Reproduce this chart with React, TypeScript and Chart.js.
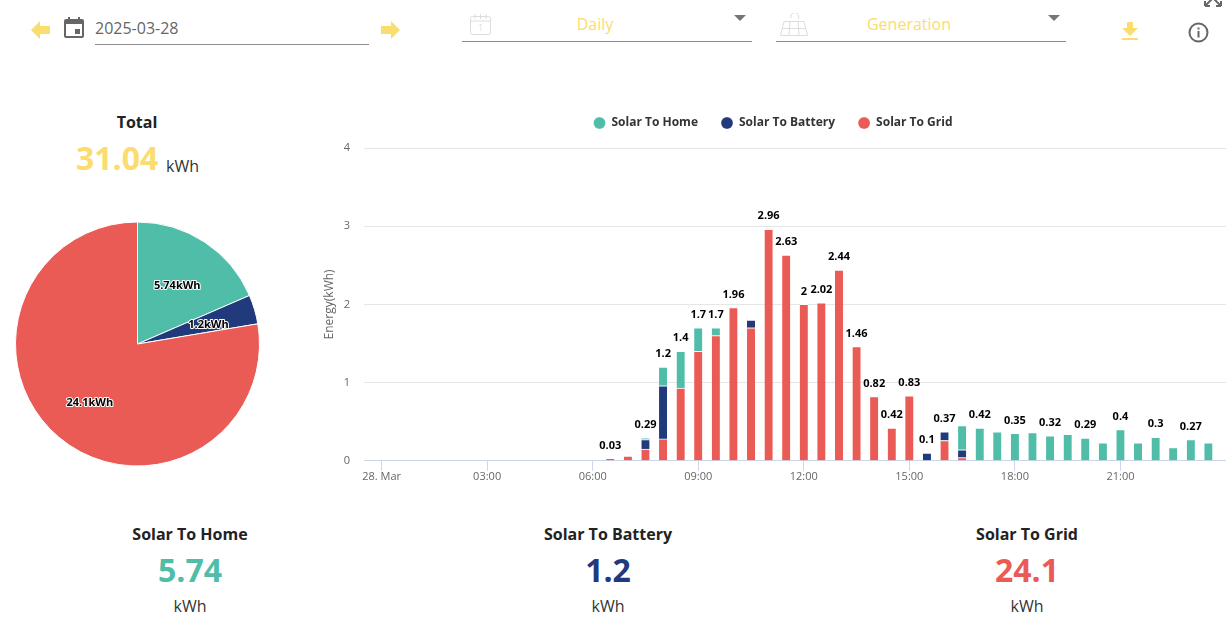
import React, { useEffect, useRef } from "react";
import { Chart, registerables, type ChartConfiguration, type Plugin } from "chart.js";

Chart.register(...registerables);

const FONT = '"Open Sans", sans-serif';
const TEAL = "#50bda9";
const NAVY = "#203a7c";
const RED = "#eb5b55";
const YELLOW = "#fbdc6e";

// half hour slots, in hours since midnight
const slots = [
  6.5, 7, 7.5, 8, 8.5, 9, 9.5, 10, 10.5, 11, 11.5, 12, 12.5, 13, 13.5, 14, 14.5, 15, 15.5, 16, 16.5, 17, 17.5, 18,
  18.5, 19, 19.5, 20, 20.5, 21, 21.5, 22, 22.5, 23, 23.5,
];
const solarToHome = [
  0, 0, 0.02, 0.24, 0.47, 0.3, 0.1, 0, 0, 0, 0, 0, 0, 0, 0, 0, 0, 0, 0, 0, 0.31, 0.42, 0.37, 0.35, 0.36, 0.32, 0.34,
  0.29, 0.23, 0.4, 0.23, 0.3, 0.17, 0.27, 0.23,
];
const solarToBattery = [
  0, 0, 0.12, 0.68, 0, 0, 0, 0, 0.1, 0, 0, 0, 0, 0, 0, 0, 0, 0, 0.1, 0.11, 0.1, 0, 0, 0, 0, 0, 0, 0, 0, 0, 0, 0, 0, 0, 0,
];
const solarToGrid = [
  0.03, 0.06, 0.15, 0.28, 0.93, 1.4, 1.6, 1.96, 1.7, 2.96, 2.63, 2, 2.02, 2.44, 1.46, 0.82, 0.42, 0.83, 0, 0.26, 0.04,
  0, 0, 0, 0, 0, 0, 0, 0, 0, 0, 0, 0, 0, 0,
];
// the labels that stay visible above the stacks, the others are hidden for overlap
const stackLabels = [
  "0.03", null, "0.29", "1.2", "1.4", "1.7", "1.7", "1.96", null, "2.96", "2.63", "2", "2.02", "2.44", "1.46", "0.82",
  "0.42", "0.83", "0.1", "0.37", null, "0.42", null, "0.35", null, "0.32", null, "0.29", null, "0.4", null, "0.3", null,
  "0.27", null,
];
const tickHours = [0, 3, 6, 9, 12, 15, 18, 21];
const tickLabels = ["28. Mar", "03:00", "06:00", "09:00", "12:00", "15:00", "18:00", "21:00"];

const pieLabels = ["Solar To Home", "Solar To Battery", "Solar To Grid"];
const pieValues = [5.74, 1.2, 24.1];
const pieColors = [TEAL, NAVY, RED];
const pieLabelRadius = [71.5, 73.5, 74.5];

const points = (values: number[]) => slots.map((x, i) => ({ x, y: values[i] > 0 ? values[i] : null }));

const stackLabelPlugin: Plugin<"bar"> = {
  id: "stackLabels",
  afterDatasetsDraw(chart) {
    const { ctx, scales } = chart;
    ctx.save();
    ctx.font = `bold 11px ${FONT}`;
    ctx.fillStyle = "#000";
    ctx.textAlign = "center";
    ctx.textBaseline = "middle";
    slots.forEach((slot, i) => {
      const label = stackLabels[i];
      if (!label) return;
      const total = solarToHome[i] + solarToBattery[i] + solarToGrid[i];
      ctx.fillText(label, scales.x.getPixelForValue(slot), scales.y.getPixelForValue(total) - 13);
    });
    ctx.restore();
  },
};

// more room under the legend, the legend plugin has no option for it
const legendGapPlugin: Plugin<"bar"> = {
  id: "legendGap",
  beforeInit(chart) {
    const legend = chart.legend as any;
    const fit = legend.fit;
    legend.fit = function () {
      fit.bind(legend)();
      legend.height += 9;
    };
  },
};

const pieLabelPlugin: Plugin<"pie"> = {
  id: "pieLabels",
  afterDatasetsDraw(chart) {
    const { ctx } = chart;
    ctx.save();
    ctx.font = `bold 11px ${FONT}`;
    ctx.textAlign = "center";
    ctx.textBaseline = "middle";
    ctx.lineJoin = "round";
    chart.getDatasetMeta(0).data.forEach((arc: any, i) => {
      const mid = (arc.startAngle + arc.endAngle) / 2;
      const x = arc.x + Math.cos(mid) * pieLabelRadius[i] + 0.5;
      const y = arc.y + Math.sin(mid) * pieLabelRadius[i] + 2;
      const text = `${pieValues[i]}kWh`;
      ctx.lineWidth = 2;
      ctx.strokeStyle = "#fff";
      ctx.strokeText(text, x, y);
      ctx.fillStyle = "#000";
      ctx.fillText(text, x, y);
    });
    ctx.restore();
  },
};

function EnergyChart() {
  const ref = useRef<HTMLCanvasElement | null>(null);

  useEffect(() => {
    if (!ref.current) return;
    const common = { type: "bar" as const, barThickness: 8, borderColor: "#fff", borderSkipped: false, borderWidth: { top: 1, bottom: 0, left: 0, right: 0 } };
    const config: ChartConfiguration<"bar"> = {
      type: "bar",
      data: {
        // stacked from the bottom up, the legend reverses them
        datasets: [
          { ...common, label: "Solar To Grid", data: points(solarToGrid) as any, backgroundColor: RED },
          { ...common, label: "Solar To Battery", data: points(solarToBattery) as any, backgroundColor: NAVY },
          { ...common, label: "Solar To Home", data: points(solarToHome) as any, backgroundColor: TEAL },
        ],
      },
      options: {
        animation: false,
        responsive: true,
        maintainAspectRatio: false,
        layout: { padding: 0 },
        plugins: {
          tooltip: { enabled: false },
          legend: {
            position: "top",
            reverse: true,
            labels: {
              usePointStyle: true,
              pointStyle: "circle",
              boxWidth: 12,
              boxHeight: 8.5,
              padding: 23,
              color: "#333",
              font: { family: FONT, size: 12, weight: "bold" },
            },
          },
        },
        scales: {
          x: {
            type: "linear",
            stacked: true,
            offset: false,
            min: -0.5,
            max: 24,
            afterBuildTicks: (scale) => {
              scale.ticks = tickHours.map((value) => ({ value }));
            },
            grid: { offset: false, drawOnChartArea: false, drawTicks: true, tickLength: 10, tickColor: "#ccd6eb" },
            border: { color: "#ccd6eb" },
            ticks: {
              autoSkip: false,
              maxRotation: 0,
              padding: -1,
              color: "#666",
              font: { family: FONT, size: 11 },
              callback: (value) => tickLabels[tickHours.indexOf(Number(value))],
            },
          },
          y: {
            stacked: true,
            min: 0,
            max: 4,
            afterFit: (scale) => {
              scale.width = 44;
            },
            // the zero line is the x axis itself
            grid: { color: (c) => (c.tick.value === 0 ? "transparent" : "#e6e6e6"), drawTicks: false },
            border: { display: false },
            ticks: { stepSize: 1, padding: 14, color: "#666", font: { family: FONT, size: 11 } },
            title: { display: true, text: "Energy(kWh)", color: "#666", padding: { top: 2, bottom: 0 }, font: { family: FONT, size: 12 } },
          },
        },
      },
      plugins: [legendGapPlugin, stackLabelPlugin],
    };
    const chart = new Chart(ref.current, config);
    return () => chart.destroy();
  }, []);

  return (
    <div style={{ position: "absolute", left: 320, top: 94, width: 906, height: 388 }}>
      <canvas ref={ref} />
    </div>
  );
}

function TotalPie() {
  const ref = useRef<HTMLCanvasElement | null>(null);

  useEffect(() => {
    if (!ref.current) return;
    const config: ChartConfiguration<"pie"> = {
      type: "pie",
      data: {
        labels: pieLabels,
        datasets: [{ data: pieValues, backgroundColor: pieColors, borderColor: "#fff", borderWidth: 1 }],
      },
      options: {
        animation: false,
        responsive: true,
        maintainAspectRatio: false,
        plugins: { legend: { display: false }, tooltip: { enabled: false } },
      },
      plugins: [pieLabelPlugin],
    };
    const chart = new Chart(ref.current, config);
    return () => chart.destroy();
  }, []);

  return (
    <div style={{ position: "absolute", left: 15, top: 221, width: 245, height: 246 }}>
      <canvas ref={ref} />
    </div>
  );
}

const text = (x: number, y: number, size: number, color: string, bold = false, align = "center"): React.CSSProperties => ({
  position: "absolute",
  left: align === "center" ? x - 150 : x,
  top: y - 20,
  width: align === "center" ? 300 : undefined,
  height: 40,
  lineHeight: "40px",
  textAlign: align as any,
  fontSize: size,
  fontWeight: bold ? 700 : 400,
  color,
  whiteSpace: "nowrap",
});

const line = (left: number, width: number, top: number): React.CSSProperties => ({
  position: "absolute",
  left,
  width,
  top,
  height: 1,
  background: "#8c8c8c",
});

const icon = (left: number, top: number, width: number, height: number): React.CSSProperties => ({
  position: "absolute",
  left,
  top,
  width,
  height,
});

function Summary({ x, title, value, color }: { x: number; title: string; value: string; color: string }) {
  return (
    <>
      <div style={text(x, 534, 16, "#222", true)}>{title}</div>
      <div style={text(x, 570, 32, color, true)}>{value}</div>
      <div style={text(x, 606, 16, "#333")}>kWh</div>
    </>
  );
}

export default function App() {
  return (
    <div style={{ position: "fixed", left: 0, top: 0, width: 1226, height: 621, overflow: "hidden", background: "#fff", fontFamily: FONT }}>
      {/* toolbar */}
      <svg style={icon(31, 21, 19, 18)} viewBox="0 0 19 18"><path d="M0 9 L9 0 V5 H19 V13 H9 V18 Z" fill={YELLOW} /></svg>
      <svg style={icon(64, 17, 20, 21)} viewBox="0 0 20 21">
        <path d="M4 0h2v2h8V0h2v2h2a2 2 0 0 1 2 2v15a2 2 0 0 1-2 2H2a2 2 0 0 1-2-2V4a2 2 0 0 1 2-2h2z M2 7v12h16V7z M11 12h5v5h-5z" fill="#666" fillRule="evenodd" />
      </svg>
      <div style={text(95, 28, 16, "#666", false, "left")}>2025-03-28</div>
      <div style={line(95, 274, 44)} />
      <svg style={icon(381, 21, 19, 18)} viewBox="0 0 19 18"><path d="M19 9 L10 0 V5 H0 V13 H10 V18 Z" fill={YELLOW} /></svg>

      <svg style={icon(470, 14, 21, 21)} viewBox="0 0 21 21" fill="none" stroke="#ddd">
        <rect x="0.5" y="2.5" width="20" height="18" rx="2" />
        <path d="M0.5 7h20 M5 0v5 M10.5 0v5 M16 0v5" />
        <text x="10.5" y="17" fontSize="9" textAnchor="middle" fill="#ddd" stroke="none">1</text>
      </svg>
      <div style={text(595, 24, 16, YELLOW)}>Daily</div>
      <svg style={icon(734, 15, 12, 6)} viewBox="0 0 12 6"><path d="M0 0h12L6 6z" fill="#757575" /></svg>
      <div style={line(462, 290, 41)} />

      <svg style={icon(780, 13, 28, 23)} viewBox="0 0 28 23" fill="none" stroke="#ddd">
        <path d="M4 8.5H24L27.5 22.5H0.5Z M2.5 15.5H25.5 M10 8.5L9 22.5 M18 8.5L19 22.5" />
        <path d="M18 6a4 4 0 1 0-7-1" />
      </svg>
      <div style={text(909, 24, 16, YELLOW)}>Generation</div>
      <svg style={icon(1048, 15, 12, 6)} viewBox="0 0 12 6"><path d="M0 0h12L6 6z" fill="#757575" /></svg>
      <div style={line(776, 290, 41)} />

      <svg style={icon(1122, 22, 16, 18)} viewBox="0 0 16 18"><path d="M5 0h6v6h5l-8 8-8-8h5z M0 16h16v2H0z" fill={YELLOW} /></svg>
      <svg style={icon(1187.5, 21.5, 21, 21)} viewBox="0 0 21 21" fill="none" stroke="#666" strokeWidth="2">
        <circle cx="10.5" cy="10.5" r="9" />
        <path d="M10.5 9v6.5 M10.5 5.5v2" />
      </svg>
      <svg style={icon(1204, -7, 18, 14)} viewBox="0 0 18 14" fill="none" stroke="#666" strokeWidth="2">
        <path d="M1 13V8 M1 13H6 M1 13L8 6 M17 13V8 M17 13H12 M17 13L10 6" />
      </svg>

      {/* total and pie */}
      <div style={text(137, 122, 16, "#222", true)}>Total</div>
      <div style={text(76, 158, 32, YELLOW, true, "left")}>31.04</div>
      <div style={text(166, 166, 16, "#333", false, "left")}>kWh</div>
      <TotalPie />

      <EnergyChart />

      <Summary x={190} title="Solar To Home" value="5.74" color={TEAL} />
      <Summary x={608} title="Solar To Battery" value="1.2" color={NAVY} />
      <Summary x={1027} title="Solar To Grid" value="24.1" color={RED} />
    </div>
  );
}
